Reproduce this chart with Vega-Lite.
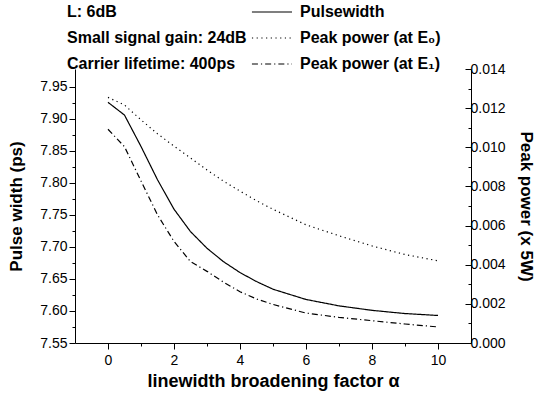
{
  "$schema": "https://vega.github.io/schema/vega-lite/v6.json",
  "width": 396,
  "height": 274,
  "autosize": {"type": "none"},
  "padding": {"left": 75, "top": 69, "right": 65, "bottom": 51},
  "background": "white",
  "config": {
    "font": "Liberation Sans",
    "view": {"stroke": null},
    "axis": {"domainColor": "black", "tickColor": "black", "labelColor": "black", "titleColor": "black", "labelFontSize": 14, "titleFontSize": 17, "titleFontWeight": "bold", "grid": false, "domainWidth": 1, "tickWidth": 1}
  },
  "title": {
    "text": ["L: 6dB", "Small signal gain: 24dB", "Carrier lifetime: 400ps"],
    "anchor": "start",
    "frame": "group",
    "dx": -8,
    "offset": -78,
    "fontSize": 16,
    "fontWeight": "bold",
    "lineHeight": 26,
    "color": "black"
  },
  "data": {
    "values": [
      {"a": 0, "s": "Pulsewidth", "v": 7.926},
      {"a": 0.5, "s": "Pulsewidth", "v": 7.906},
      {"a": 1, "s": "Pulsewidth", "v": 7.857},
      {"a": 1.5, "s": "Pulsewidth", "v": 7.805},
      {"a": 2, "s": "Pulsewidth", "v": 7.759},
      {"a": 2.5, "s": "Pulsewidth", "v": 7.724},
      {"a": 3, "s": "Pulsewidth", "v": 7.698},
      {"a": 3.5, "s": "Pulsewidth", "v": 7.677},
      {"a": 4, "s": "Pulsewidth", "v": 7.660},
      {"a": 4.5, "s": "Pulsewidth", "v": 7.646},
      {"a": 5, "s": "Pulsewidth", "v": 7.634},
      {"a": 6, "s": "Pulsewidth", "v": 7.618},
      {"a": 7, "s": "Pulsewidth", "v": 7.608},
      {"a": 8, "s": "Pulsewidth", "v": 7.601},
      {"a": 9, "s": "Pulsewidth", "v": 7.596},
      {"a": 10, "s": "Pulsewidth", "v": 7.593},
      {"a": 0, "s": "Peak power (at E₀)", "v": 0.01255},
      {"a": 0.5, "s": "Peak power (at E₀)", "v": 0.01216},
      {"a": 1, "s": "Peak power (at E₀)", "v": 0.01140},
      {"a": 1.5, "s": "Peak power (at E₀)", "v": 0.01069},
      {"a": 2, "s": "Peak power (at E₀)", "v": 0.01006},
      {"a": 2.5, "s": "Peak power (at E₀)", "v": 0.00945},
      {"a": 3, "s": "Peak power (at E₀)", "v": 0.00884},
      {"a": 3.5, "s": "Peak power (at E₀)", "v": 0.00827},
      {"a": 4, "s": "Peak power (at E₀)", "v": 0.00776},
      {"a": 4.5, "s": "Peak power (at E₀)", "v": 0.00727},
      {"a": 5, "s": "Peak power (at E₀)", "v": 0.00683},
      {"a": 6, "s": "Peak power (at E₀)", "v": 0.00604},
      {"a": 7, "s": "Peak power (at E₀)", "v": 0.00548},
      {"a": 8, "s": "Peak power (at E₀)", "v": 0.00496},
      {"a": 9, "s": "Peak power (at E₀)", "v": 0.00452},
      {"a": 10, "s": "Peak power (at E₀)", "v": 0.00420},
      {"a": 0, "s": "Peak power (at E₁)", "v": 0.01092},
      {"a": 0.5, "s": "Peak power (at E₁)", "v": 0.01003},
      {"a": 1, "s": "Peak power (at E₁)", "v": 0.00828},
      {"a": 1.5, "s": "Peak power (at E₁)", "v": 0.00655},
      {"a": 2, "s": "Peak power (at E₁)", "v": 0.00519},
      {"a": 2.5, "s": "Peak power (at E₁)", "v": 0.00416},
      {"a": 3, "s": "Peak power (at E₁)", "v": 0.00366},
      {"a": 3.5, "s": "Peak power (at E₁)", "v": 0.00311},
      {"a": 4, "s": "Peak power (at E₁)", "v": 0.00262},
      {"a": 4.5, "s": "Peak power (at E₁)", "v": 0.00225},
      {"a": 5, "s": "Peak power (at E₁)", "v": 0.00197},
      {"a": 6, "s": "Peak power (at E₁)", "v": 0.00153},
      {"a": 7, "s": "Peak power (at E₁)", "v": 0.00131},
      {"a": 8, "s": "Peak power (at E₁)", "v": 0.00114},
      {"a": 9, "s": "Peak power (at E₁)", "v": 0.00097},
      {"a": 10, "s": "Peak power (at E₁)", "v": 0.00082}
    ]
  },
  "encoding": {
    "x": {
      "field": "a", "type": "quantitative",
      "scale": {"domain": [-1, 11], "nice": false, "zero": false},
      "axis": {
        "title": "linewidth broadening factor α",
        "titleFontSize": 18,
        "values": [0,1,2,3,4,5,6,7,8,9,10],
        "labelExpr": "datum.value % 2 == 0 ? datum.label : ''",
        "tickSize": {"condition": {"test": "datum.value % 2 == 0", "value": 6}, "value": 3},
        "labelPadding": 4,
        "titlePadding": 5
      }
    },
    "strokeDash": {
      "field": "s", "type": "nominal",
      "scale": {
        "domain": ["Pulsewidth", "Peak power (at E₀)", "Peak power (at E₁)"],
        "range": [[1, 0], [1.2, 3.5], [6, 3, 1.2, 3]]
      },
      "legend": {
        "title": null,
        "orient": "none",
        "legendX": 179,
        "legendY": -75,
        "symbolType": "M-1.18,0H1.18",
        "symbolSize": 1156,
        "symbolStrokeWidth": 1.2,
        "symbolStrokeColor": "black",
        "labelFontSize": 16,
        "labelFontWeight": "bold",
        "labelColor": "black",
        "labelOffset": 10,
        "rowPadding": -19
      }
    }
  },
  "layer": [
    {
      "transform": [{"filter": "datum.s == 'Pulsewidth'"}],
      "mark": {"type": "line", "color": "black", "strokeWidth": 1.2},
      "encoding": {
        "y": {
          "field": "v", "type": "quantitative",
          "scale": {"domain": [7.55, 7.978], "nice": false, "zero": false},
          "axis": {
            "title": "Pulse width (ps)",
            "orient": "left",
            "values": [7.55,7.575,7.6,7.625,7.65,7.675,7.7,7.725,7.75,7.775,7.8,7.825,7.85,7.875,7.9,7.925,7.95],
            "format": ".2f",
            "labelExpr": "round(datum.value*1000) % 50 == 0 ? datum.label : ''",
            "tickSize": {"condition": {"test": "round(datum.value*1000) % 50 == 0", "value": 6}, "value": 3},
            "labelPadding": 2,
            "titlePadding": 14
          }
        }
      }
    },
    {
      "transform": [{"filter": "datum.s != 'Pulsewidth'"}],
      "mark": {"type": "line", "color": "black", "strokeWidth": 1.2},
      "encoding": {
        "y": {
          "field": "v", "type": "quantitative",
          "scale": {"domain": [0, 0.014], "nice": false},
          "axis": {
            "title": "Peak power (x 5W)",
            "orient": "right",
            "values": [0,0.001,0.002,0.003,0.004,0.005,0.006,0.007,0.008,0.009,0.01,0.011,0.012,0.013,0.014],
            "format": ".3f",
            "labelExpr": "round(datum.value*1000) % 2 == 0 ? datum.label : ''",
            "tickSize": {"condition": {"test": "round(datum.value*1000) % 2 == 0", "value": -6}, "value": -3},
            "labelPadding": 5,
            "titlePadding": 11
          }
        }
      }
    }
  ],
  "resolve": {"scale": {"y": "independent"}}
}
